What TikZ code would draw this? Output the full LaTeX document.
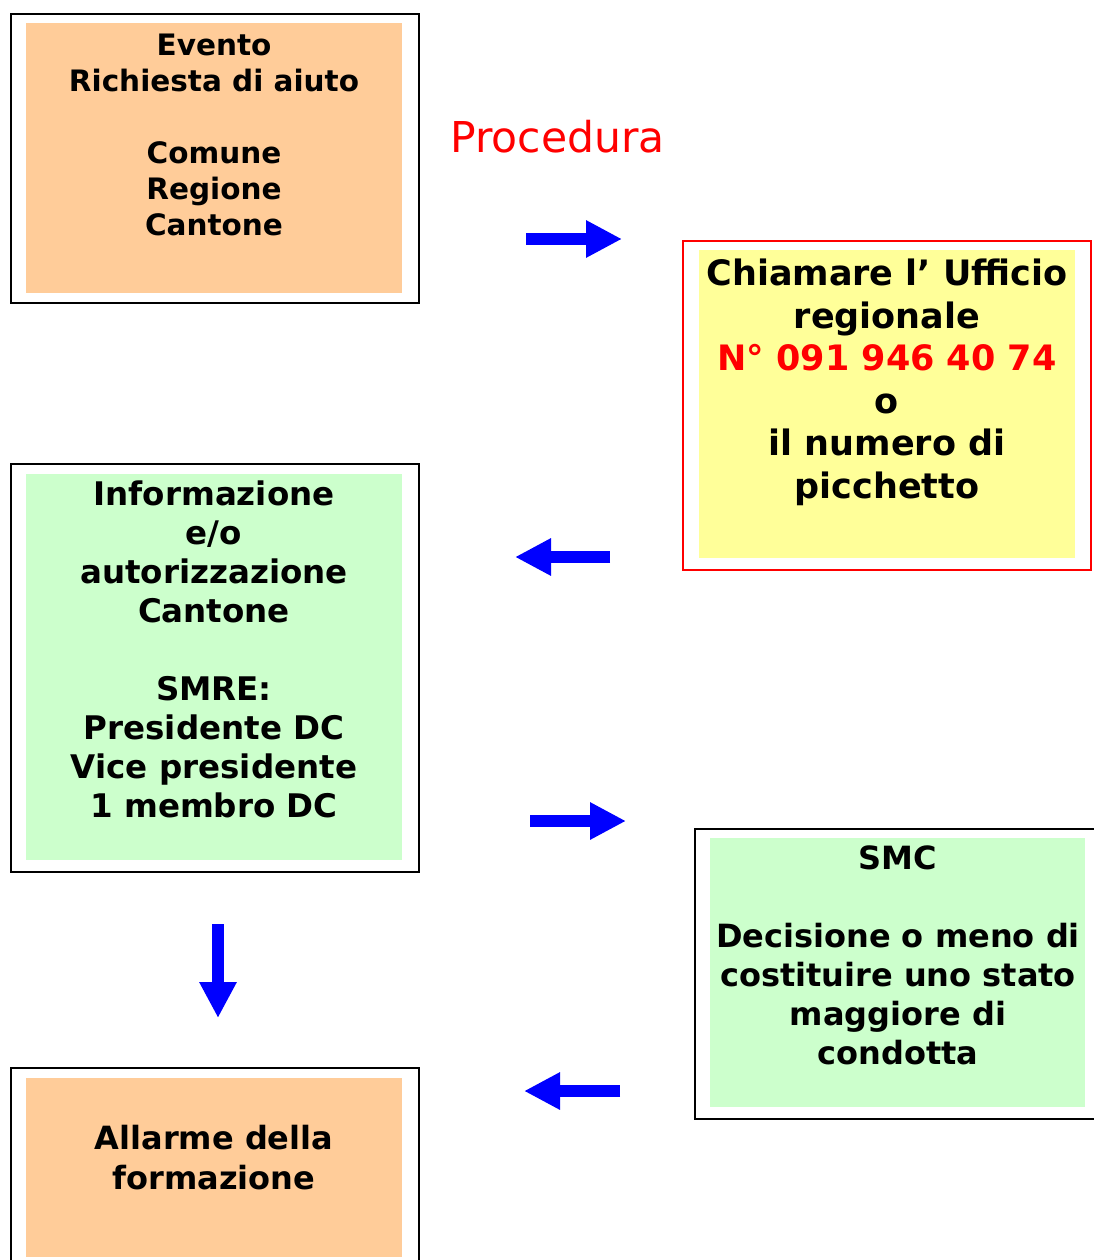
\documentclass[tikz,border=0pt]{standalone}
\usepackage{fontspec}
\setmainfont{DejaVu Sans}
\usetikzlibrary{arrows.meta}
\definecolor{boxorange}{HTML}{FFCC99}
\definecolor{boxyellow}{HTML}{FFFF99}
\definecolor{boxgreen}{HTML}{CCFFCC}
\definecolor{arrowblue}{HTML}{0000FF}
\definecolor{numred}{HTML}{FF0000}
\tikzset{
  frame/.style={draw=black, line width=2pt, fill=white, anchor=north west, inner sep=0pt},
  redframe/.style={draw=numred, line width=1.5pt, fill=white, anchor=north west, inner sep=0pt},
  panel/.style={anchor=north west, inner sep=0pt, draw=none},
  lbl/.style={anchor=north, align=center, inner sep=0pt},
  blockarrow/.style={draw=arrowblue, line width=12.5pt, -{Triangle[length=36pt,width=35pt]}},
}
\begin{document}
\begin{tikzpicture}[x=1pt,y=-1pt]
\useasboundingbox (0,0) rectangle (1093,1260);
% box 1
\node[frame, minimum width=408pt, minimum height=289pt] (f1) at (10,13) {};
\node[panel, fill=boxorange, minimum width=376pt, minimum height=270pt] (p1) at (26,23) {};
\node[lbl, font=\bfseries\fontsize{29.5}{36}\selectfont] (t1) at (214,34) {Evento\\Richiesta di aiuto\\[36pt]Comune\\Regione\\Cantone};
% title
\node[anchor=north west, inner sep=0pt, text=numred, font=\fontsize{42.5}{50}\selectfont] (title) at (450,120) {Procedura};
% box 2
\node[redframe, minimum width=408pt, minimum height=329pt] (f2) at (682,240) {};
\node[panel, fill=boxyellow, minimum width=376pt, minimum height=308pt] (p2) at (699,250) {};
\node[lbl, font=\bfseries\fontsize{35}{42.5}\selectfont] (t2) at (887,259) {Chiamare l’ Ufficio\\regionale\\\textcolor{numred}{N° 091 946 40 74}\\o\\il numero di\\picchetto};
% box 3
\node[frame, minimum width=408pt, minimum height=408pt] (f3) at (10,463) {};
\node[panel, fill=boxgreen, minimum width=376pt, minimum height=386pt] (p3) at (26,474) {};
\node[lbl, font=\bfseries\fontsize{32.5}{39}\selectfont] (t3) at (214,481) {Informazione\\e/o\\autorizzazione\\Cantone\\[39pt]SMRE:\\Presidente DC\\Vice presidente\\1 membro DC};
% box 4
\node[frame, minimum width=420pt, minimum height=290pt] (f4) at (694,828) {};
\node[panel, fill=boxgreen, minimum width=375pt, minimum height=269pt] (p4) at (710,838) {};
\node[lbl, font=\bfseries\fontsize{32}{39}\selectfont] (t4) at (898,846) {SMC\\[39pt]Decisione o meno di\\costituire uno stato\\maggiore di\\condotta};
% box 5
\node[frame, minimum width=408pt, minimum height=220pt] (f5) at (10,1067) {};
\node[panel, fill=boxorange, minimum width=376pt, minimum height=179pt] (p5) at (26,1078) {};
\node[lbl, font=\bfseries\fontsize{32}{40}\selectfont] (t5) at (214,1125) {Allarme della\\formazione};
% arrows
\coordinate (a1s) at (526,239); \coordinate (a1e) at (622,239);
\coordinate (a2s) at (610,557); \coordinate (a2e) at (515,557);
\coordinate (a3s) at (530,821); \coordinate (a3e) at (626,821);
\coordinate (a4s) at (218,924); \coordinate (a4e) at (218,1018);
\coordinate (a5s) at (620,1091); \coordinate (a5e) at (524,1091);
\draw[blockarrow] (a1s) -- (a1e);
\draw[blockarrow] (a2s) -- (a2e);
\draw[blockarrow] (a3s) -- (a3e);
\draw[blockarrow] (a4s) -- (a4e);
\draw[blockarrow] (a5s) -- (a5e);
\end{tikzpicture}
\end{document}
